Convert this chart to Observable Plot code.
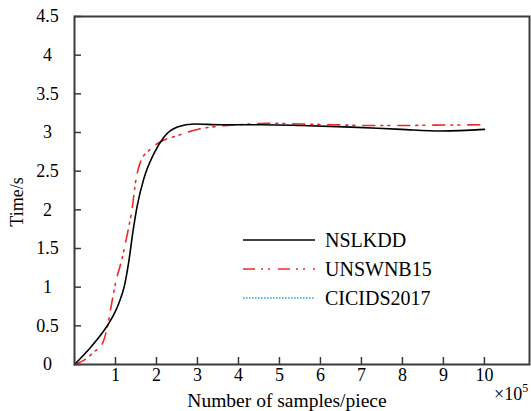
<!DOCTYPE html>
<html>
<head>
<meta charset="utf-8">
<script src="https://cdn.jsdelivr.net/npm/d3@7"></script>
<script src="https://cdn.jsdelivr.net/npm/@observablehq/plot@0.6"></script>
<style>
  html, body { margin: 0; padding: 0; background: #fff; }
  #chart { width: 531px; height: 411px; overflow: hidden; }
  #chart svg text { font-family: "Liberation Serif", "Times New Roman", serif; }
</style>
</head>
<body>
<div id="chart"></div>
<script>
// Data (x in units of 10^5 samples, y in seconds)
const seriesNames = ["NSLKDD", "UNSWNB15", "CICIDS2017"];
const nslkddX = [0, 0.39, 0.72, 0.88, 1.08, 1.21, 1.33, 1.41, 1.53, 1.69, 1.94, 2.18, 2.51, 2.92, 3.57, 4.55, 5.53, 6.75, 7.97, 8.95, 10];
const nslkddY = [0, 0.22, 0.44, 0.57, 0.79, 1.0, 1.35, 1.66, 2.05, 2.4, 2.73, 2.94, 3.07, 3.11, 3.10, 3.10, 3.09, 3.07, 3.04, 3.02, 3.04];
const unswX = [0, 0.3, 0.47, 0.68, 0.8, 0.92, 1.0, 1.17, 1.29, 1.41, 1.49, 1.61, 1.82, 2.1, 2.51, 3.0, 3.5, 4.0, 4.71, 5.53, 6.34, 7.15, 7.97, 8.78, 10];
const unswY = [0, 0.08, 0.16, 0.27, 0.48, 0.83, 1.05, 1.39, 1.69, 2.03, 2.36, 2.62, 2.77, 2.88, 2.96, 3.04, 3.08, 3.10, 3.12, 3.11, 3.10, 3.09, 3.09, 3.095, 3.1];
const xTicks = [1, 2, 3, 4, 5, 6, 7, 8, 9, 10];
const yTicks = [0, 0.5, 1, 1.5, 2, 2.5, 3, 3.5, 4, 4.5];
const yTickLabels = ["0", "0.5", "1", "1.5", "2", "2.5", "3", "3.5", "4", "4.5"];

const nslkdd = nslkddX.map((x, i) => ({x, y: nslkddY[i]}));
const unsw = unswX.map((x, i) => ({x, y: unswY[i]}));

const colors = ["#000000", "#f02828", "#33aadd"];
const dashes = [null, "12,6,2,5,2,8", "1.6,1.4"];
const axisColor = "#3a3a3a";

const plot = Plot.plot({
  width: 531,
  height: 411,
  marginLeft: 74,
  marginRight: 2,
  marginTop: 16,
  marginBottom: 47,
  x: {domain: [0, 11.1], axis: null},
  y: {domain: [0, 4.5], axis: null},
  style: {fontSize: "18px", background: "#fff", color: "#000"},
  marks: [
    Plot.line(unsw, {x: "x", y: "y", curve: "monotone-x", stroke: colors[1], strokeWidth: 1.6, strokeDasharray: dashes[1]}),
    Plot.line(nslkdd, {x: "x", y: "y", curve: "monotone-x", stroke: colors[0], strokeWidth: 1.6}),
    Plot.ruleX(xTicks, {x: d => d, y1: 0, y2: 0, insetTop: -7, stroke: axisColor, strokeWidth: 1.5}),
    Plot.ruleY(yTicks, {y: d => d, x1: 0, x2: 0, insetRight: -7, stroke: axisColor, strokeWidth: 1.5}),
    Plot.frame({stroke: axisColor, strokeWidth: 2}),
    Plot.text(xTicks, {x: d => d, frameAnchor: "bottom", lineAnchor: "top", dy: 4, text: d => String(d), fill: "#000"}),
    Plot.text(yTicks, {y: d => d, frameAnchor: "left", dx: -27, textAnchor: "middle", text: (d, i) => yTickLabels[i], fill: "#000"})
  ]
});

document.getElementById("chart").appendChild(plot);

const svg = d3.select(plot);
svg.attr("overflow", "hidden");

// Axis titles
svg.append("text")
  .attr("transform", "translate(23,202) rotate(-90)")
  .attr("text-anchor", "middle")
  .attr("font-size", 18).attr("fill", "#000")
  .text("Time/s");

svg.append("text")
  .attr("x", 287).attr("y", 407)
  .attr("text-anchor", "middle")
  .attr("font-size", 19.5).attr("fill", "#000")
  .text("Number of samples/piece");

const mult = svg.append("text")
  .attr("x", 494).attr("y", 400)
  .attr("text-anchor", "start")
  .attr("font-size", 18).attr("fill", "#000");
mult.append("tspan").text("×10");
mult.append("tspan").attr("font-size", 12).attr("dy", -8).text("5");

// Legend
const lg = svg.append("g").attr("text-anchor", "start");
seriesNames.forEach((name, i) => {
  const y = 240 + i * 29;
  const line = lg.append("line")
    .attr("x1", 243).attr("x2", 315).attr("y1", y).attr("y2", y)
    .attr("stroke", colors[i]).attr("stroke-width", 1.6);
  if (dashes[i]) line.attr("stroke-dasharray", dashes[i]);
  lg.append("text")
    .attr("x", 325).attr("y", y + 7)
    .attr("text-anchor", "start")
    .attr("font-size", 20).attr("fill", "#000")
    .text(name);
});
</script>
</body>
</html>
